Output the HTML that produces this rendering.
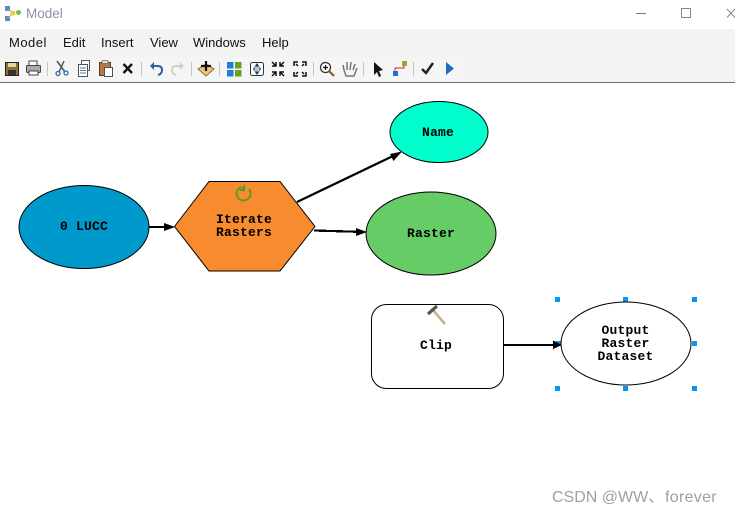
<!DOCTYPE html>
<html>
<head>
<meta charset="utf-8">
<style>
html,body{margin:0;padding:0;background:#fff;width:735px;height:514px;overflow:hidden}
svg{display:block}
.menu{font:13px "Liberation Sans",sans-serif;fill:#111}
.lab{font:bold 13px "Liberation Mono",monospace;fill:#000;text-anchor:middle;letter-spacing:.2px}
.crisp{shape-rendering:crispEdges}
</style>
</head>
<body>
<svg width="735" height="514" viewBox="0 0 735 514" xmlns="http://www.w3.org/2000/svg">
<rect width="735" height="514" fill="#fff"/>
<!-- title bar -->
<g>
<rect x="5" y="6" width="5" height="5" fill="#4a90d0"/>
<rect x="5" y="16" width="5" height="5" fill="#4a90d0"/>
<path d="M8 9L13 13L8 18" fill="none" stroke="#c9a040" stroke-width="1"/>
<circle cx="13" cy="13" r="2.5" fill="#e8c84a"/>
<circle cx="18.500" cy="12.500" r="2.500" fill="#7cb850"/>
<text x="26" y="18" style="font:13.500px 'Liberation Sans',sans-serif" fill="#8b95a3">Model</text>
<rect x="636" y="13" width="10" height="1" fill="#777"/>
<rect x="681.500" y="8.500" width="9" height="9" fill="none" stroke="#888"/>
<path d="M727 9L735 17.500M735 9L727 17.500" stroke="#888" stroke-width="1" fill="none"/>
</g>
<!-- menu -->
<rect x="0" y="29" width="735" height="53" fill="#f3f3f3"/>
<rect x="0" y="57" width="463" height="25" fill="#f5f5f5"/>
<rect x="0" y="82" width="735" height="1" fill="#6e6e6e"/>
<text class="menu" x="9" y="47" letter-spacing=".5">Model</text>
<text class="menu" x="63" y="47">Edit</text>
<text class="menu" x="101" y="47">Insert</text>
<text class="menu" x="150" y="47">View</text>
<text class="menu" x="193" y="47">Windows</text>
<text class="menu" x="262" y="47">Help</text>
<!-- toolbar icons -->
<g>
<rect x="5.500" y="62.500" width="13" height="13" fill="#8a7430" stroke="#222"/>
<rect x="8" y="63" width="8" height="4" fill="#e4d8a0"/>
<rect x="8" y="70" width="8" height="5" fill="#333"/>
<rect x="29" y="61" width="8" height="5" fill="#fff" stroke="#444"/>
<rect x="26.500" y="65.500" width="14" height="7" rx="1" fill="#aaa" stroke="#444"/>
<rect x="29" y="71" width="9" height="4" fill="#fff" stroke="#444"/>
<rect x="47" y="62" width="1" height="14" fill="#c6c6c6"/>
<path d="M57 61L65 72M64 61L59 72" stroke="#555" stroke-width="1.500" fill="none"/>
<circle cx="58" cy="73.500" r="2" fill="none" stroke="#2a6cb0" stroke-width="1.300"/>
<circle cx="66" cy="73" r="2" fill="none" stroke="#2a6cb0" stroke-width="1.300"/>
<rect x="81.500" y="60.500" width="8" height="10" fill="#fff" stroke="#555"/>
<rect x="78.500" y="64.500" width="9" height="12" fill="#fff" stroke="#456"/>
<path d="M80 68H86M80 70.500H86M80 73H86" stroke="#678" stroke-width="1"/>
<rect x="99.500" y="62.500" width="11" height="13" fill="#b8793c" stroke="#5c3a1a"/>
<rect x="102" y="60.500" width="6" height="3" fill="#ddd" stroke="#555" stroke-width=".6"/>
<rect x="104.500" y="67.500" width="8" height="9" fill="#fff" stroke="#456"/>
<path d="M123.500 64L132 73M132 64L123.500 73" stroke="#111" stroke-width="2.400"/>
<rect x="141" y="62" width="1" height="14" fill="#c6c6c6"/>
<path d="M151 66H158Q162 66 162 70T158 75" fill="none" stroke="#2b5f9e" stroke-width="2"/>
<path d="M150 66L154 62V70Z" fill="#2b5f9e"/>
<path d="M183 66H176Q172 66 172 70T176 75" fill="none" stroke="#cfcfcf" stroke-width="2"/>
<path d="M184 66L180 62V70Z" fill="#cfcfcf"/>
<rect x="191" y="62" width="1" height="14" fill="#c6c6c6"/>
<path d="M198 69L206 64L214 69L206 76Z" fill="#e8c878" stroke="#8a6a30"/>
<path d="M206 61V71M201 66H211" stroke="#111" stroke-width="2.200"/>
<rect x="219" y="62" width="1" height="14" fill="#c6c6c6"/>
<rect x="227" y="62" width="6.500" height="6.500" fill="#1a80d8"/>
<rect x="235" y="62" width="6.500" height="6.500" fill="#6aa020"/>
<rect x="227" y="70" width="6.500" height="6.500" fill="#1a80d8"/>
<rect x="235" y="70" width="6.500" height="6.500" fill="#6aa020"/>
<rect x="250.500" y="62.500" width="13" height="13" fill="#fff" stroke="#333" rx="2"/>
<path d="M257 63L261 69L257 75L253 69Z" fill="#333"/>
<rect x="254.500" y="66.500" width="5" height="5" fill="#a8c8e8"/>
<path d="M272 62L276 66M276 62V66H272M284 62L280 66M280 62V66H284M272 76L276 72M276 76V72H272M284 76L280 72M280 76V72H284" stroke="#111" stroke-width="1.500" fill="none"/>
<path d="M294 66V62H298M302 62H306V66M294 72V76H298M302 76H306V72" stroke="#111" stroke-width="1.500" fill="none"/>
<path d="M296 64L298 66M304 64L302 66M296 74L298 72M304 74L302 72" stroke="#111" stroke-width="1.500"/>
<rect x="313" y="62" width="1" height="14" fill="#c6c6c6"/>
<circle cx="325.500" cy="67.500" r="5" fill="#fff" stroke="#333" stroke-width="1.300"/>
<path d="M323 67.500H328M325.500 65V70" stroke="#111" stroke-width="1.300"/>
<path d="M329 71L334 76" stroke="#8a5a30" stroke-width="2.200"/>
<path d="M344 70L343 65M347 70V62M350 70L351 62M353 70L355 64M344 70L346 76H354L357 68" fill="none" stroke="#777" stroke-width="1.500"/>
<rect x="363" y="62" width="1" height="14" fill="#c6c6c6"/>
<path d="M374 62L374 75L377 72L379 77L381 76L379 71L383 70Z" fill="#111"/>
<path d="M395 72V68H404V64" fill="none" stroke="#e02020" stroke-width="1"/>
<rect x="393" y="71" width="5" height="5" fill="#1a70d0"/>
<rect x="402" y="61" width="5" height="5" fill="#88b020"/>
<rect x="413" y="62" width="1" height="14" fill="#c6c6c6"/>
<path d="M422 69L426 73L433 63" fill="none" stroke="#222" stroke-width="2.500"/>
<path d="M446 62L454 68.500L446 75Z" fill="#1a6cc8"/>
</g>
<!-- handles behind/around -->
<g fill="#0a96f0">
<rect x="555" y="297" width="5" height="5"/>
<rect x="623" y="297" width="5" height="5"/>
<rect x="692" y="297" width="5" height="5"/>
<rect x="556" y="341" width="5" height="5"/>
<rect x="692" y="341" width="5" height="5"/>
<rect x="555" y="386" width="5" height="5"/>
<rect x="623" y="386" width="5" height="5"/>
<rect x="692" y="386" width="5" height="5"/>
</g>
<!-- connectors -->
<g stroke="#000" stroke-width="2.200" fill="none" class="crisp">
<path d="M149 227H168"/>
<path d="M297 202L393 156" shape-rendering="auto"/>
<path d="M314 230.500L358 231.800"/>
<path d="M503 345H555"/>
</g>
<g fill="#000">
<path d="M175 227L164 223V231Z"/>
<path d="M402 151.500L390 154L393.500 161Z"/>
<path d="M367 232L356 228V236Z"/>
<path d="M562 345L553 340.500V349.500H552Z"/>
</g>
<!-- nodes -->
<g stroke="#000" stroke-width="1">
<ellipse cx="84" cy="227" rx="65" ry="41.500" fill="#0099cc"/>
<path d="M174.500 226.500L209 181.500H280L315 226.500L280 271H209Z" fill="#f78b2e"/>
<ellipse cx="439" cy="132" rx="49" ry="30.500" fill="#00ffcc"/>
<ellipse cx="431" cy="233.500" rx="65" ry="41.500" fill="#66cc66"/>
<rect x="371.500" y="304.500" width="132" height="84" rx="15" fill="#fff"/>
<ellipse cx="626" cy="343.500" rx="65" ry="41.500" fill="#fff"/>
</g>
<!-- iterate icon -->
<path d="M241 187A7 7 0 1 0 249 189" fill="none" stroke="#4f9e2a" stroke-width="1.800"/>
<path d="M245 184V191H239Z" fill="#4f9e2a"/>
<!-- hammer icon -->
<path d="M433 310L445 324" stroke="#c8b48c" stroke-width="2.600"/>
<path d="M428 314L437 306" stroke="#555" stroke-width="3.200"/>
<!-- labels -->
<text class="lab" x="84" y="230">0 LUCC</text>
<text class="lab" x="244" y="223">Iterate</text>
<text class="lab" x="244" y="236">Rasters</text>
<text class="lab" x="438" y="136">Name</text>
<text class="lab" x="431" y="237">Raster</text>
<text class="lab" x="436" y="349">Clip</text>
<text class="lab" x="625.500" y="334">Output</text>
<text class="lab" x="625.500" y="347">Raster</text>
<text class="lab" x="625.500" y="360">Dataset</text>
<!-- watermark -->
<text x="552" y="502" style="font:16px 'Liberation Sans','Noto Sans CJK SC',sans-serif" fill="#a0a0a0">CSDN @WW、</text>
<text x="665" y="502" style="font:16px 'Liberation Sans',sans-serif" fill="#a0a0a0" letter-spacing=".3">forever</text>
</svg>
</body>
</html>
